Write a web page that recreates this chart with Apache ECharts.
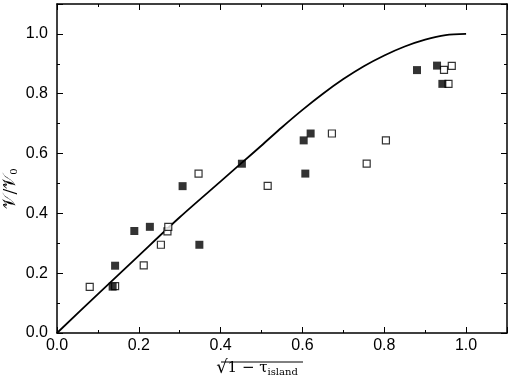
<!DOCTYPE html>
<html>
<head>
<meta charset="utf-8">
<script src="https://cdn.jsdelivr.net/npm/echarts@6/dist/echarts.min.js"></script>
<style>
  html, body { margin: 0; padding: 0; background: #fff; }
  #main { width: 514px; height: 384px; }
</style>
</head>
<body>
<div id="main"></div>
<script>
// theory curve
var curveX = [0, 0.1, 0.2, 0.3, 0.4, 0.45, 0.5, 0.55, 0.6, 0.65, 0.7, 0.75, 0.8, 0.85, 0.9, 0.95, 1.0];
var curveY = [0, 0.13, 0.259, 0.387, 0.507, 0.567, 0.627, 0.688, 0.746, 0.800, 0.849, 0.892, 0.928, 0.958, 0.981, 0.996, 1.0];

// filled squares
var filledX = [0.136, 0.142, 0.189, 0.227, 0.307, 0.348, 0.452, 0.603, 0.620, 0.607, 0.880, 0.929, 0.942];
var filledY = [0.155, 0.225, 0.341, 0.355, 0.491, 0.295, 0.566, 0.644, 0.667, 0.533, 0.879, 0.894, 0.833];

// open squares
var openX = [0.080, 0.142, 0.212, 0.254, 0.270, 0.272, 0.346, 0.515, 0.672, 0.757, 0.804, 0.946, 0.965, 0.957];
var openY = [0.154, 0.157, 0.226, 0.295, 0.340, 0.355, 0.533, 0.492, 0.667, 0.566, 0.644, 0.880, 0.893, 0.833];

function pairs(xs, ys) {
    var out = [];
    for (var i = 0; i < xs.length; i++) {
        out.push([xs[i], ys[i]]);
    }
    return out;
}

var tickFont = "'Liberation Sans', Arial, sans-serif";
var mathFont = "'DejaVu Serif', 'Liberation Serif', serif";

// shared axis look: inward ticks on all four sides
function axisBase(showLabel) {
    return {
        type: 'value',
        min: 0,
        max: 1.1,
        interval: 0.2,
        nameMoveOverlap: false,
        axisLine: { show: true, onZero: false, lineStyle: { color: '#000', width: 1.5 } },
        axisTick: { show: true, inside: true, length: 6, lineStyle: { color: '#000', width: 1 } },
        minorTick: { show: true, splitNumber: 2, length: 3, lineStyle: { color: '#000', width: 1 } },
        splitLine: { show: false },
        axisLabel: {
            show: showLabel,
            color: '#000',
            fontFamily: tickFont,
            fontSize: 16,
            formatter: function (v) { return v.toFixed(1); }
        }
    };
}

var xBottom = axisBase(true);
xBottom.position = 'bottom';
xBottom.axisLabel.margin = 5;
xBottom.axisLabel.showMaxLabel = false;
xBottom.name = '{r|√}{o|1 − τ}{s|island}';
xBottom.nameLocation = 'middle';
xBottom.nameGap = 26;
xBottom.nameTextStyle = {
    color: '#000',
    padding: [0, 50, 0, 0],
    rich: {
        r: { fontFamily: mathFont, fontSize: 18, color: '#000' },
        o: { fontFamily: mathFont, fontSize: 15, color: '#000' },
        s: { fontFamily: mathFont, fontSize: 10, color: '#000', verticalAlign: 'bottom', padding: [6, 0, 0, 0] }
    }
};

var xTop = axisBase(false);
xTop.position = 'top';

var yLeft = axisBase(true);
yLeft.position = 'left';
yLeft.axisLabel.margin = 9;
yLeft.axisLabel.showMaxLabel = false;
yLeft.name = '{v|𝒱/𝒱}{s|0}';
yLeft.nameLocation = 'middle';
yLeft.nameGap = 38;
yLeft.nameTextStyle = {
    color: '#000',
    padding: [0, 40, 0, 0],
    rich: {
        v: { fontFamily: mathFont, fontSize: 17, color: '#000' },
        s: { fontFamily: mathFont, fontSize: 10, color: '#000', verticalAlign: 'bottom', padding: [6, 0, 0, 0] }
    }
};

var yRight = axisBase(false);
yRight.position = 'right';

var chart = echarts.init(document.getElementById('main'), null, { renderer: 'canvas' });

var option = {
    backgroundColor: '#fff',
    animation: false,
    grid: { left: 57, right: 7, top: 4, bottom: 51, containLabel: false, outerBoundsMode: 'none' },
    xAxis: [xBottom, xTop],
    yAxis: [yLeft, yRight],
    graphic: [
        // overline of the square root in the x axis title
        {
            type: 'line',
            shape: { x1: 221, y1: 362, x2: 303, y2: 362 },
            style: { stroke: '#000', lineWidth: 1 }
        }
    ],
    series: [
        {
            name: 'curve',
            type: 'line',
            data: pairs(curveX, curveY),
            smooth: 0.3,
            showSymbol: false,
            lineStyle: { color: '#000', width: 1.8 },
            z: 2
        },
        {
            name: 'open',
            type: 'scatter',
            data: pairs(openX, openY),
            symbol: 'rect',
            symbolSize: 7,
            itemStyle: { color: '#fff', borderColor: '#000', borderWidth: 1.2 },
            z: 3
        },
        {
            name: 'filled',
            type: 'scatter',
            data: pairs(filledX, filledY),
            symbol: 'rect',
            symbolSize: 8,
            itemStyle: { color: '#000' },
            z: 4
        }
    ]
};

chart.setOption(option);
</script>
</body>
</html>
